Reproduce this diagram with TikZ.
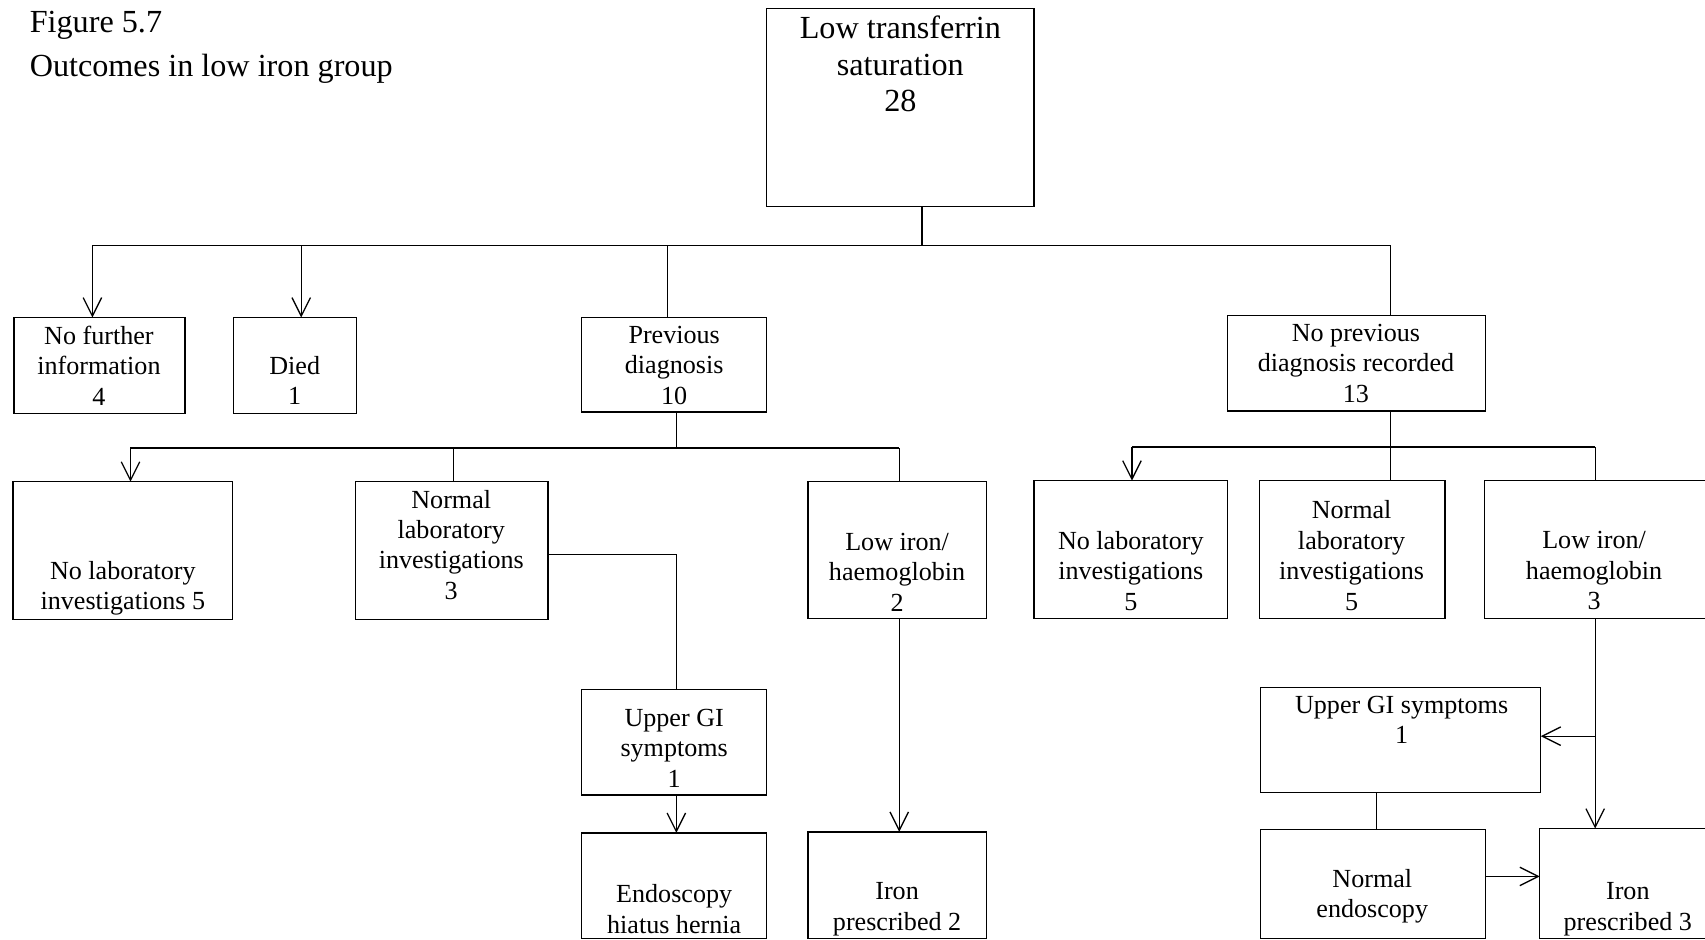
\documentclass[tikz,border=0pt]{standalone}
\usepackage{fontspec}
\setmainfont{Liberation Serif}
\usetikzlibrary{arrows.meta}

% rectangle given by its corners (x1,y1) and (x2,y2)
\newcommand{\flowbox}[5]{%
  \node[flowrect, minimum width={(#4-#2)*0.5pt}, minimum height={(#5-#3)*0.5pt}]
    (#1) at ({(#2+#4)/2},{(#3+#5)/2}) {};}

\begin{document}
\begin{tikzpicture}[x=0.5pt,y=-0.5pt,
  flowrect/.style={draw, line width=0.6pt, inner sep=0pt, outer sep=0pt},
  label/.style={align=center, inner sep=0pt, font=\fontsize{12}{14}\selectfont},
  link/.style={line width=0.6pt},
  arr/.style={line width=0.6pt, -{Straight Barb[length=8.5pt,width=8.5pt,line width=0.6pt]}}]
\useasboundingbox (0,0) rectangle (1568,864);
\clip (0,0) rectangle (1568,864);

% heading
\node[anchor=base west, inner sep=0pt, font=\fontsize{14.8}{16}\selectfont] (fig) at (27,30) {Figure 5.7};
\node[anchor=base west, inner sep=0pt, font=\fontsize{14.8}{16}\selectfont] (cap) at (27,70) {Outcomes in low iron group};

% boxes
\flowbox{top}{705}{8}{951}{190}
\flowbox{nfi}{13}{292}{170}{380}
\flowbox{died}{215}{292}{328}{380}
\flowbox{prev}{535}{292}{705}{379}
\flowbox{nprev}{1129}{290}{1366}{378}
\flowbox{nolabL}{12}{443}{214}{570}
\flowbox{normL}{327}{443}{504}{570}
\flowbox{lowL}{743}{443}{907}{569}
\flowbox{nolabR}{951}{442}{1129}{569}
\flowbox{normR}{1158}{442}{1329}{569}
\flowbox{lowR}{1365}{442}{1610}{569}
\flowbox{ugiL}{535}{634}{705}{731}
\flowbox{endoL}{535}{766}{705}{863}
\flowbox{ironL}{743}{765}{907}{863}
\flowbox{ugiR}{1159}{632}{1417}{729}
\flowbox{nendo}{1159}{763}{1366}{863}
\flowbox{ironR}{1416}{762}{1610}{863}

% box texts
\node[label, font=\fontsize{14.8}{16.75}\selectfont] (ttop) at (828,59) {Low transferrin\\saturation\\28};
\node[label] (tnfi) at (91,336) {No further\\information\\4};
\node[label] (tdied) at (271,350) {Died\\1};
\node[label] (tprev) at (620,336) {Previous\\diagnosis\\10};
\node[label] (tnprev) at (1247,334) {No previous\\diagnosis recorded\\13};
\node[label] (tnolabL) at (113,541) {No laboratory\\investigations 5};
\node[label] (tnormL) at (415,501) {Normal\\laboratory\\investigations\\3};
\node[label] (tlowL) at (825,526) {Low iron/\\haemoglobin\\2};
\node[label] (tnolabR) at (1040,525) {No laboratory\\investigations\\5};
\node[label] (tnormR) at (1243,511) {Normal\\laboratory\\investigations\\5};
\node[label] (tlowR) at (1466,525) {Low iron/\\haemoglobin\\3};
\node[label] (tugiL) at (620,688) {Upper GI\\symptoms\\1};
\node[label] (tugiR) at (1289,662) {Upper GI symptoms\\1};
\node[label] (tendoL) at (620,836) {Endoscopy\\hiatus hernia};
\node[label] (tironL) at (825,836) {Iron\\prescribed 2};
\node[label] (tnendo) at (1262,824) {Normal\\endoscopy};
\node[label] (tironR) at (1497,836) {Iron\\prescribed 3};

% junction points
\coordinate (j0) at (848,226);
\coordinate (j0a) at (85,226);
\coordinate (j0b) at (277,226);
\coordinate (j0c) at (614,226);
\coordinate (j0d) at (1279,226);
\coordinate (j1) at (622,412);
\coordinate (j1a) at (120,412);
\coordinate (j1b) at (417,412);
\coordinate (j1c) at (827,412);
\coordinate (j2) at (1279,411);
\coordinate (j2a) at (1041,411);
\coordinate (j2c) at (1467,411);
\coordinate (j3) at (1467,677);

% first level
\draw[link] (j0 |- top.south) -- (j0);
\draw[link] (j0a) -- (j0d);
\draw[arr] (j0a) -- (j0a |- nfi.north);
\draw[arr] (j0b) -- (j0b |- died.north);
\draw[link] (j0c) -- (j0c |- prev.north);
\draw[link] (j0d) -- (j0d |- nprev.north);

% previous diagnosis branch
\draw[link] (j1 |- prev.south) -- (j1);
\draw[link] (j1a) -- (j1c);
\draw[arr] (j1a) -- (j1a |- nolabL.north);
\draw[link] (j1b) -- (j1b |- normL.north);
\draw[link] (j1c) -- (j1c |- lowL.north);
\draw[link] (normL.east |- 0,510) -| (j1 |- ugiL.north);
\draw[arr] (j1 |- ugiL.south) -- (j1 |- endoL.north);
\draw[arr] (j1c |- lowL.south) -- (j1c |- ironL.north);

% no previous diagnosis branch
\draw[link] (j2 |- nprev.south) -- (j2);
\draw[link] (j2a) -- (j2c);
\draw[arr] (j2a) -- (j2a |- nolabR.north);
\draw[link] (j2) -- (j2 |- normR.north);
\draw[link] (j2c) -- (j2c |- lowR.north);
\draw[arr] (j2c |- lowR.south) -- (j2c |- ironR.north);
\draw[arr] (j3) -- (j3 -| ugiR.east);
\draw[link] (1266,0 |- ugiR.south) -- (1266,0 |- nendo.north);
\draw[arr] (nendo.east |- 0,806) -- (ironR.west |- 0,806);
\end{tikzpicture}
\end{document}
